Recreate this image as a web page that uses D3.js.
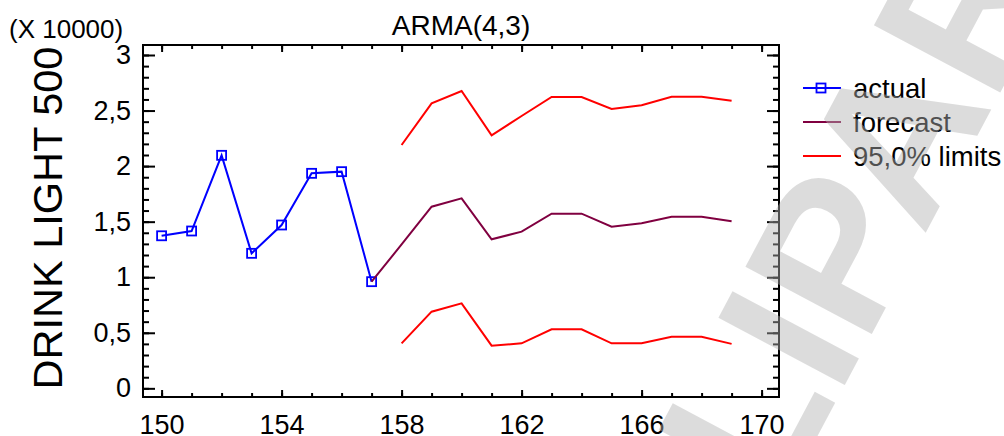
<!DOCTYPE html>
<html>
<head>
<meta charset="utf-8">
<script src="https://cdn.jsdelivr.net/npm/d3@7"></script>
<style>
  html, body { margin: 0; padding: 0; background: #fff; }
  svg { display: block; font-family: "Liberation Sans", Arial, sans-serif; }
</style>
</head>
<body>
<svg id="chart" width="1004" height="436"></svg>
<script>
// ---- data (values in original units; axis shown X 10000) ----
const actualPeriods = [150, 151, 152, 153, 154, 155, 156, 157];
const actualValues  = [13730, 14160, 20970, 12150, 14700, 19350, 19500, 9600];

const forecastPeriods = [157, 158, 159, 160, 161, 162, 163, 164, 165, 166, 167, 168, 169];
const forecastValues  = [9600, 12950, 16350, 17100, 13410, 14100, 15720, 15720, 14550, 14850, 15450, 15450, 15030];

const limitPeriods = [158, 159, 160, 161, 162, 163, 164, 165, 166, 167, 168, 169];
const upperLimits  = [21900, 25650, 26760, 22770, 24510, 26220, 26220, 25140, 25470, 26250, 26250, 25890];
const lowerLimits  = [4050, 6900, 7650, 3840, 4050, 5310, 5310, 4050, 4050, 4650, 4650, 4000];

const xMajorTicks = [150, 154, 158, 162, 166, 170];
const yMajorTicks = [0, 5000, 10000, 15000, 20000, 25000, 30000];
const yTickLabels = ["0", "0,5", "1", "1,5", "2", "2,5", "3"];

const legendLabels = ["actual", "forecast", "95,0% limits"];
const titleText = "ARMA(4,3)";
const yAxisTitle = "DRINK LIGHT 500";
const scaleNote = "(X 10000)";
const watermarkText = "CLIPART";

// ---- layout ----
const W = 1004, H = 436;
const L = 143, R = 779, T = 45, B = 397;
const FS = 27;
const colActual = "#0000ff", colForecast = "#800040", colLimits = "#ff0000";

const svg = d3.select("#chart");
svg.append("rect").attr("width", W).attr("height", H).attr("fill", "#fff");

const x = d3.scaleLinear().domain([149.38, 170.58]).range([L, R]);
const y = d3.scaleLinear().domain([-780, 30900]).range([B, T]);

const xMinor = d3.range(150, 171, 1);
const yMinor = d3.range(0, 30001, 1000);

// axes
function styleAxis(g) {
  g.select(".domain").remove();
  g.selectAll("line").attr("stroke", "#000").attr("stroke-width", 2);
  g.selectAll("text").attr("fill", "#000").style("font-size", FS + "px")
    .style("font-family", '"Liberation Sans", Arial, sans-serif');
}
// bottom minor + major
svg.append("g").attr("transform", `translate(0,${B})`)
  .call(d3.axisBottom(x).tickValues(xMinor).tickSize(-4).tickFormat(""))
  .call(styleAxis);
svg.append("g").attr("transform", `translate(0,${B})`)
  .call(d3.axisBottom(x).tickValues(xMajorTicks).tickSize(-7).tickPadding(18).tickFormat(d3.format("d")))
  .call(styleAxis);
// top minor + major
svg.append("g").attr("transform", `translate(0,${T})`)
  .call(d3.axisTop(x).tickValues(xMinor).tickSize(-4).tickFormat(""))
  .call(styleAxis);
svg.append("g").attr("transform", `translate(0,${T})`)
  .call(d3.axisTop(x).tickValues(xMajorTicks).tickSize(-7).tickFormat(""))
  .call(styleAxis);
// left
svg.append("g").attr("transform", `translate(${L},0)`)
  .call(d3.axisLeft(y).tickValues(yMinor).tickSize(-6).tickFormat(""))
  .call(styleAxis);
svg.append("g").attr("transform", `translate(${L},0)`)
  .call(d3.axisLeft(y).tickValues(yMajorTicks).tickSize(-12).tickPadding(12)
    .tickFormat((d, i) => yTickLabels[i]))
  .call(styleAxis);
// right
svg.append("g").attr("transform", `translate(${R},0)`)
  .call(d3.axisRight(y).tickValues(yMinor).tickSize(-6).tickFormat(""))
  .call(styleAxis);
svg.append("g").attr("transform", `translate(${R},0)`)
  .call(d3.axisRight(y).tickValues(yMajorTicks).tickSize(-12).tickFormat(""))
  .call(styleAxis);

// frame
svg.append("rect").attr("x", L).attr("y", T).attr("width", R - L).attr("height", B - T)
  .attr("fill", "none").attr("stroke", "#000").attr("stroke-width", 2);

// lines
const line = d3.line().x(d => x(d[0])).y(d => y(d[1]));
const zip = (a, b) => a.map((v, i) => [v, b[i]]);

svg.append("path").datum(zip(limitPeriods, upperLimits)).attr("d", line)
  .attr("fill", "none").attr("stroke", colLimits).attr("stroke-width", 2);
svg.append("path").datum(zip(limitPeriods, lowerLimits)).attr("d", line)
  .attr("fill", "none").attr("stroke", colLimits).attr("stroke-width", 2);
svg.append("path").datum(zip(actualPeriods, actualValues)).attr("d", line)
  .attr("fill", "none").attr("stroke", colActual).attr("stroke-width", 2);
svg.selectAll("rect.mk").data(zip(actualPeriods, actualValues)).join("rect")
  .attr("class", "mk")
  .attr("x", d => x(d[0]) - 4.5).attr("y", d => y(d[1]) - 4.5)
  .attr("width", 9).attr("height", 9)
  .attr("fill", "none").attr("stroke", colActual).attr("stroke-width", 1.8);
svg.append("path").datum(zip(forecastPeriods, forecastValues)).attr("d", line)
  .attr("fill", "none").attr("stroke", colForecast).attr("stroke-width", 2);

// title & labels
svg.append("text").attr("x", (L + R) / 2).attr("y", 35).attr("text-anchor", "middle")
  .style("font-size", "28px").text(titleText);
svg.append("text").attr("x", 9).attr("y", 38).style("font-size", "26px").text(scaleNote);
svg.append("text").attr("transform", "translate(62,218) rotate(-90)")
  .attr("text-anchor", "middle").style("font-size", "41.5px").text(yAxisTitle);

// legend
const legendColors = [colActual, colForecast, colLimits];
const legendY = [88, 122, 156];
legendLabels.forEach((lab, i) => {
  svg.append("line").attr("x1", 803).attr("x2", 841).attr("y1", legendY[i]).attr("y2", legendY[i])
    .attr("stroke", legendColors[i]).attr("stroke-width", 2);
  if (i === 0) {
    svg.append("rect").attr("x", 821 - 4.5).attr("y", legendY[i] - 4.5).attr("width", 9).attr("height", 9)
      .attr("fill", "none").attr("stroke", colActual).attr("stroke-width", 1.8);
  }
  svg.append("text").attr("x", 853).attr("y", legendY[i] + 9.5).style("font-size", "27.5px").text(lab);
});

// watermark
svg.append("text").attr("transform", "translate(708,642) rotate(-62)")
  .style("font-size", "208px").style("font-weight", "bold")
  .attr("fill", "rgb(178,178,178)").attr("fill-opacity", 0.45)
  .text(watermarkText);
</script>
</body>
</html>
